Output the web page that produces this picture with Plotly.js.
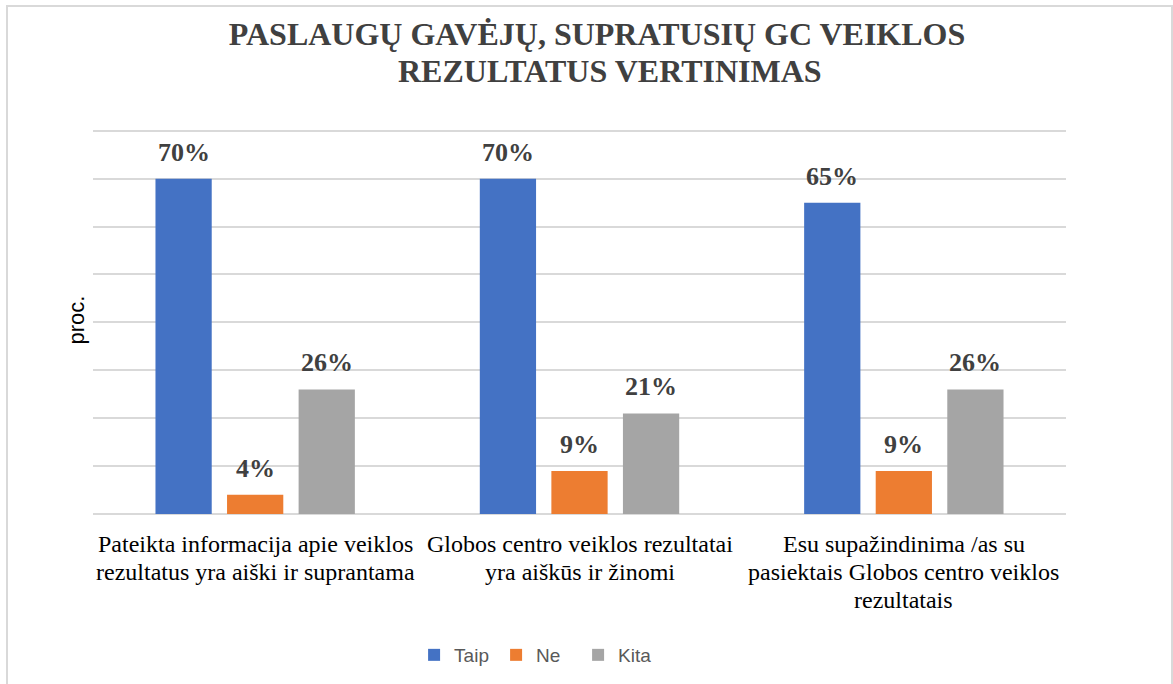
<!DOCTYPE html>
<html>
<head>
<meta charset="utf-8">
<script src="https://cdn.plot.ly/plotly-3.0.1.min.js"></script>
<style>
  html, body { margin: 0; padding: 0; background: #fff; }
  #chart { width: 1173px; height: 684px; position: absolute; left: 0; top: 0; }
  #frame { position: absolute; left: 6px; top: 5px; width: 1167px; height: 700px;
           border: 2px solid #d9d9d9; box-sizing: border-box; pointer-events: none; }
</style>
</head>
<body>
<div id="chart"></div>
<div id="frame"></div>
<script>
const titleLines = ["PASLAUGŲ GAVĖJŲ, SUPRATUSIŲ GC VEIKLOS", "REZULTATUS VERTINIMAS"];
const categories = [
  "Pateikta informacija apie veiklos<br>rezultatus yra aiški ir suprantama",
  "Globos centro veiklos rezultatai<br>yra aiškūs ir žinomi",
  "Esu supažindinima /as su<br>pasiektais Globos centro veiklos<br>rezultatais"
];
const seriesNames = ["Taip", "Ne", "Kita"];
const taip = [70, 70, 65];
const ne = [4, 9, 9];
const kita = [26, 21, 26];
const seriesColors = ["#4472C4", "#ED7D31", "#A5A5A5"];
const yTitle = "proc.";
const yRange = [0, 81];

const W = 1173, H = 684;
const margin = { l: 93, r: 107, t: 126, b: 169 };
const bargap = 0.338, bargroupgap = 0.214;
const plotW = W - margin.l - margin.r;
const slot = plotW / categories.length * (1 - bargap) / seriesNames.length;

const values = [taip, ne, kita];
const traces = values.map((v, i) => ({
  type: "bar",
  name: seriesNames[i],
  x: categories,
  y: v,
  marker: { color: seriesColors[i] },
  hoverinfo: "none"
}));

const annotations = [];
// data labels
values.forEach((v, i) => {
  v.forEach((val, j) => {
    annotations.push({
      x: categories[j], y: val, xref: "x", yref: "y",
      text: val + "%", showarrow: false,
      xanchor: "center", yanchor: "bottom",
      xshift: (i - (seriesNames.length - 1) / 2) * slot, yshift: 10,
      font: { family: "Liberation Serif", size: 26, color: "#404040", weight: "bold" }
    });
  });
});
// category labels (line by line for Excel-like spacing)
categories.forEach((c) => {
  c.split("<br>").forEach((line, k) => {
    annotations.push({
      x: c, y: 0, xref: "x", yref: "paper",
      text: line, showarrow: false,
      xanchor: "center", yanchor: "middle",
      yshift: -(30 + 28 * k),
      font: { family: "Liberation Serif", size: 24, color: "#000000" }
    });
  });
});
// second title line
annotations.push({
  x: 0.531, y: 1, xref: "paper", yref: "paper",
  text: titleLines[1], showarrow: false,
  xanchor: "center", yanchor: "middle", yshift: margin.t - 71,
  font: { family: "Liberation Serif", size: 32, color: "#404040", weight: "bold" }
});

const layout = {
  width: W,
  height: H,
  margin: margin,
  paper_bgcolor: "#ffffff",
  plot_bgcolor: "#ffffff",
  barmode: "group",
  bargap: bargap,
  bargroupgap: bargroupgap,
  showlegend: true,
  title: {
    text: titleLines[0],
    font: { family: "Liberation Serif", size: 32, color: "#404040", weight: "bold" },
    x: 0.509, xref: "container", xanchor: "center",
    y: 0.950, yref: "container", yanchor: "middle"
  },
  xaxis: {
    type: "category",
    showticklabels: false,
    ticks: "",
    showline: false, showgrid: false, fixedrange: true
  },
  yaxis: {
    range: yRange,
    dtick: 10,
    showticklabels: false,
    showgrid: true, gridcolor: "#d9d9d9", gridwidth: 2,
    zeroline: true, zerolinecolor: "#d9d9d9", zerolinewidth: 2,
    showline: false, ticks: "",
    title: { text: yTitle, font: { family: "Liberation Sans", size: 22, color: "#000000" }, standoff: 1 },
    fixedrange: true
  },
  legend: {
    orientation: "h",
    x: 0.33, xanchor: "left",
    y: -(655 - (H - margin.b)) / (H - margin.t - margin.b), yanchor: "middle",
    entrywidth: 37, entrywidthmode: "pixels",
    font: { family: "Liberation Sans", size: 19, color: "#595959" },
    bgcolor: "rgba(0,0,0,0)"
  },
  annotations: annotations
};

Plotly.newPlot("chart", traces, layout, { displayModeBar: false, staticPlot: true });
</script>
</body>
</html>
